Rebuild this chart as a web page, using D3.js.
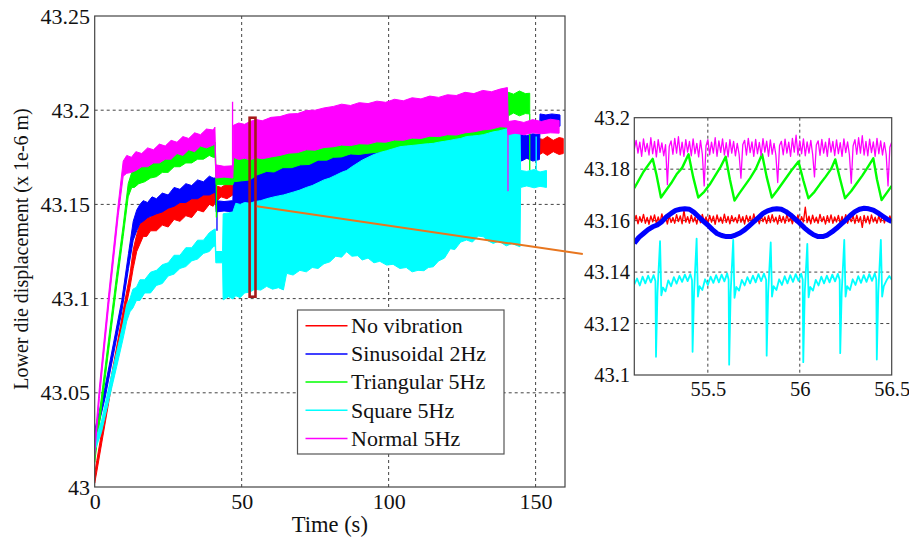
<!DOCTYPE html>
<html><head><meta charset="utf-8">
<script src="https://cdn.jsdelivr.net/npm/d3@7"></script>
<style>
body{margin:0;background:#fff}
svg{display:block}
svg text{font-family:"Liberation Serif","Tinos","DejaVu Serif","Noto Serif",serif;fill:#111}
</style>
</head><body>
<svg id="c" width="909" height="541"></svg>
<script>
// ---------- tick labels ----------
const xTicks = [0, 50, 100, 150];
const yTicks = [43, 43.05, 43.1, 43.15, 43.2, 43.25];
const insetXTicks = [55.5, 56, 56.5];
const insetYTicks = [43.1, 43.12, 43.14, 43.16, 43.18, 43.2];
const xLabel = "Time (s)";
const yLabel = "Lower die displacement (x 1e-6 m)";
const seriesNames = ["No vibration", "Sinusoidal 2Hz", "Triangular 5Hz", "Square 5Hz", "Normal 5Hz"];
const seriesColors = ["#ff0000", "#0000ff", "#00ff00", "#00ffff", "#ff00ff"];

// ---------- main plot: envelopes [time, low, high] ----------
const redBand = [[0,43.002,43.007],[0.7,43.008,43.014],[5,43.047,43.053],[10.3,43.093,43.099],[12,43.106,43.113],[13.1,43.116,43.126],[14.3,43.125,43.134],[15.4,43.129,43.140],[16.5,43.133,43.141],[17.7,43.133,43.144],[19,43.136,43.143],[21,43.136,43.148],[23,43.139,43.146],[25,43.138,43.151],[27,43.142,43.150],[29,43.141,43.153],[31,43.144,43.151],[33,43.143,43.155],[35,43.147,43.154],[37,43.146,43.158],[39,43.150,43.157],[40.3,43.149,43.160],[41,43.151,43.160],[43,43.154,43.159],[45,43.153,43.161],[47,43.155,43.160],[50,43.155,43.164],[60,43.157,43.166],[80,43.161,43.170],[100,43.165,43.174],[120,43.169,43.178],[145,43.174,43.183],[150.9,43.176,43.185],[152.5,43.1775,43.1845],[154,43.176,43.186],[156,43.178,43.184],[158,43.1765,43.1855],[159.4,43.177,43.185]];
const blueBand = [[0,43.024,43.030],[3.5,43.047,43.053],[9.2,43.093,43.099],[11.5,43.116,43.124],[13.1,43.131,43.141],[14.3,43.136,43.147],[15.4,43.140,43.150],[16.5,43.141,43.152],[18,43.143,43.151],[19.5,43.144,43.154],[21,43.145,43.153],[23,43.146,43.156],[25,43.148,43.155],[27,43.149,43.159],[29,43.151,43.158],[31,43.151,43.161],[33,43.153,43.160],[35,43.153,43.163],[37,43.155,43.162],[39,43.155,43.165],[40.3,43.156,43.164],[41,43.1565,43.164],[41.3,43.146,43.152],[44,43.1465,43.1515],[47,43.146,43.152],[47.3,43.148,43.1665],[56,43.149,43.167],[60,43.151,43.1695],[70,43.154,43.172],[80,43.158,43.175],[90,43.163,43.177],[100,43.168,43.178],[120,43.172,43.183],[140,43.176,43.187],[144.9,43.177,43.188],[145.2,43.173,43.187],[147,43.1745,43.1865],[149,43.173,43.1875],[151.3,43.1738,43.187],[151.5,43.191,43.198],[153.5,43.1915,43.1975],[155.5,43.191,43.198],[158.3,43.1915,43.1975]];
const greenBand = [[0,43.013,43.019],[2.7,43.047,43.053],[7.5,43.107,43.113],[9.7,43.133,43.139],[11.4,43.154,43.161],[12.6,43.159,43.167],[13.5,43.159,43.169],[15,43.161,43.169],[17,43.162,43.172],[19,43.164,43.171],[21,43.1647,43.1745],[23,43.167,43.174],[25,43.167,43.177],[27,43.170,43.177],[29,43.170,43.180],[31,43.172,43.179],[33,43.172,43.181],[35,43.174,43.180],[37,43.174,43.183],[39,43.176,43.182],[40.3,43.175,43.184],[41,43.175,43.183],[41.3,43.1605,43.1665],[47,43.1605,43.1665],[47.3,43.162,43.176],[50,43.1625,43.177],[52.8,43.163,43.178],[55,43.1655,43.179],[58.5,43.1675,43.180],[61,43.1672,43.181],[64,43.1695,43.1815],[67,43.1695,43.182],[70,43.171,43.183],[73,43.1712,43.184],[76,43.1735,43.1845],[79,43.1735,43.185],[81.2,43.175,43.186],[84,43.1752,43.1865],[87,43.1768,43.187],[90,43.1765,43.1875],[92,43.177,43.188],[103.8,43.179,43.190],[115,43.181,43.192],[126.5,43.184,43.194],[137.9,43.186,43.196],[140.3,43.187,43.196],[140.7,43.197,43.2095],[142.5,43.1985,43.2085],[144.5,43.197,43.2102],[146.5,43.1982,43.2088],[148,43.198,43.209]];
const cyanBand = [[0,43.019,43.024],[2.3,43.029,43.035],[5.1,43.048,43.055],[7.5,43.064,43.072],[9.7,43.079,43.087],[10.9,43.088,43.097],[12,43.093,43.100],[13,43.095,43.105],[14.2,43.099,43.106],[15.4,43.099,43.110],[17,43.103,43.110],[19,43.103,43.114],[21,43.107,43.115],[23,43.108,43.118],[25,43.112,43.119],[27,43.113,43.123],[29,43.116,43.123],[31,43.117,43.127],[33,43.120,43.127],[35,43.121,43.131],[37,43.124,43.131],[39,43.125,43.135],[40.3,43.1275,43.1364],[41,43.128,43.137],[41.2,43.119,43.125],[43.5,43.119,43.125],[43.7,43.0993,43.145],[45.5,43.1010,43.1455],[47,43.0998,43.146],[48,43.1015,43.1506],[49.5,43.1005,43.1500],[51,43.1030,43.1510],[52.8,43.1035,43.1506],[54.5,43.1050,43.1515],[56.5,43.1045,43.1520],[58.5,43.1065,43.153],[60.5,43.1050,43.1538],[62.5,43.1058,43.1545],[64.2,43.1046,43.155],[65.3,43.1134,43.1555],[67.5,43.1125,43.1565],[69.8,43.1150,43.1576],[72,43.1142,43.159],[74,43.1165,43.160],[76,43.1160,43.1615],[78,43.1185,43.163],[80,43.1195,43.164],[82,43.1225,43.1655],[84,43.1220,43.167],[85.7,43.1249,43.168],[87.5,43.1225,43.170],[89.5,43.1228,43.172],[91,43.1205,43.1735],[93,43.1215,43.175],[95,43.1190,43.1765],[97,43.1198,43.1775],[99.3,43.1178,43.1785],[101.5,43.1182,43.1795],[103.8,43.1160,43.1806],[106,43.1165,43.181],[108,43.1142,43.1813],[110,43.1150,43.1816],[112,43.1148,43.182],[113.5,43.1165,43.1822],[115.2,43.1169,43.1824],[117,43.1200,43.183],[119,43.1215,43.1835],[121,43.1265,43.184],[122.5,43.1260,43.1845],[124.5,43.1300,43.185],[126.5,43.1311,43.186],[128.5,43.1300,43.1863],[130.5,43.1332,43.1866],[132.2,43.1328,43.187],[134,43.1305,43.1878],[135.6,43.1293,43.1885],[137.5,43.1305,43.189],[140,43.1280,43.190],[142,43.1292,43.1905],[144.7,43.1275,43.191],[144.9,43.159,43.168],[147,43.1598,43.1675],[149.5,43.1588,43.1685],[151.5,43.1596,43.1672],[153.7,43.159,43.168]];
const magentaBand = [[0,43.017,43.023],[1.6,43.047,43.053],[4.8,43.097,43.103],[8,43.144,43.150],[9.7,43.165,43.173],[10.9,43.1665,43.176],[12.5,43.167,43.175],[14,43.168,43.178],[16,43.170,43.177],[18,43.170,43.180],[20,43.172,43.179],[22,43.172,43.182],[24,43.174,43.181],[26,43.174,43.184],[28,43.177,43.183],[30,43.176,43.186],[32,43.179,43.185],[34,43.178,43.188],[36,43.181,43.187],[38,43.180,43.190],[40.3,43.1815,43.1895],[40.9,43.182,43.191],[41.2,43.164,43.171],[44,43.1645,43.1702],[47,43.164,43.1705],[47.2,43.175,43.192],[49,43.1738,43.1932],[51,43.1745,43.1925],[52.8,43.1736,43.194],[55,43.1748,43.1950],[57,43.1742,43.1944],[60,43.1752,43.1962],[63,43.1760,43.1966],[66,43.1772,43.1980],[69,43.1775,43.1982],[72,43.1790,43.1998],[75,43.1788,43.2000],[78,43.1802,43.2012],[81.2,43.1806,43.2020],[84,43.1815,43.2032],[87,43.1812,43.2025],[90,43.1822,43.2040],[93,43.1820,43.2035],[96,43.1832,43.2048],[99,43.1830,43.2042],[102,43.1842,43.2058],[105,43.1840,43.2050],[108,43.1852,43.2066],[111,43.1850,43.2060],[114,43.1862,43.2075],[117,43.1860,43.2068],[120,43.1870,43.2082],[123,43.1868,43.2078],[126,43.1880,43.2095],[129,43.1885,43.2088],[132,43.1895,43.2105],[135,43.1900,43.2098],[137.9,43.1912,43.2112],[140.4,43.1910,43.2120],[140.7,43.187,43.194],[143,43.1878,43.1945],[146,43.187,43.1935],[149,43.188,43.195],[152,43.1875,43.194],[155,43.188,43.1952],[158,43.1878,43.1945]];
// isolated spikes [series index, time, from, to]
const mainSpikes = [[1,41.6,43.150,43.136],[2,41.4,43.166,43.143],[2,148,43.198,43.168],[3,150.2,43.168,43.186],[4,46.9,43.170,43.2045],[4,140.6,43.19,43.157]];

// ---------- inset (55.1 .. 56.5 s): [time, value] ----------
const redInset = [[55.10,43.1596],[55.11,43.1620],[55.12,43.1588],[55.13,43.1615],[55.14,43.1594],[55.15,43.1624],[55.16,43.1590],[55.17,43.1612],[55.18,43.1586],[55.19,43.1618],[55.20,43.1595],[55.21,43.1622],[55.22,43.1589],[55.23,43.1614],[55.24,43.1592],[55.25,43.1626],[55.26,43.1597],[55.27,43.1616],[55.28,43.1587],[55.29,43.1620],[55.30,43.1593],[55.31,43.1612],[55.32,43.1590],[55.33,43.1623],[55.34,43.1596],[55.35,43.1618],[55.36,43.1588],[55.37,43.1640],[55.38,43.1594],[55.39,43.1615],[55.40,43.1590],[55.41,43.1621],[55.42,43.1595],[55.43,43.1613],[55.44,43.1587],[55.45,43.1619],[55.46,43.1592],[55.47,43.1624],[55.48,43.1596],[55.49,43.1614],[55.50,43.1589],[55.51,43.1620],[55.52,43.1594],[55.53,43.1617],[55.54,43.1586],[55.55,43.1622],[55.56,43.1595],[55.57,43.1613],[55.58,43.1590],[55.59,43.1625],[55.60,43.1593],[55.61,43.1616],[55.62,43.1588],[55.63,43.1619],[55.64,43.1596],[55.65,43.1612],[55.66,43.1591],[55.67,43.1623],[55.68,43.1594],[55.69,43.1615],[55.70,43.1587],[55.71,43.1620],[55.72,43.1595],[55.73,43.1617],[55.74,43.1590],[55.75,43.1626],[55.76,43.1593],[55.77,43.1612],[55.78,43.1588],[55.79,43.1621],[55.80,43.1596],[55.81,43.1614],[55.82,43.1589],[55.83,43.1619],[55.84,43.1592],[55.85,43.1623],[55.86,43.1595],[55.87,43.1613],[55.88,43.1587],[55.89,43.1620],[55.90,43.1594],[55.91,43.1616],[55.92,43.1590],[55.93,43.1624],[55.94,43.1596],[55.95,43.1612],[55.96,43.1588],[55.97,43.1618],[55.98,43.1593],[55.99,43.1622],[56.00,43.1590],[56.01,43.1615],[56.02,43.1595],[56.03,43.1652],[56.04,43.1592],[56.05,43.1617],[56.06,43.1588],[56.07,43.1621],[56.08,43.1594],[56.09,43.1613],[56.10,43.1590],[56.11,43.1624],[56.12,43.1596],[56.13,43.1615],[56.14,43.1587],[56.15,43.1619],[56.16,43.1593],[56.17,43.1622],[56.18,43.1590],[56.19,43.1614],[56.20,43.1595],[56.21,43.1620],[56.22,43.1588],[56.23,43.1616],[56.24,43.1594],[56.25,43.1623],[56.26,43.1590],[56.27,43.1612],[56.28,43.1596],[56.29,43.1619],[56.30,43.1589],[56.31,43.1621],[56.32,43.1594],[56.33,43.1615],[56.34,43.1574],[56.35,43.1620],[56.36,43.1592],[56.37,43.1617],[56.38,43.1588],[56.39,43.1622],[56.40,43.1595],[56.41,43.1613],[56.42,43.1590],[56.43,43.1619],[56.44,43.1594],[56.45,43.1624],[56.46,43.1591],[56.47,43.1615],[56.48,43.1596],[56.49,43.1618],[56.50,43.1598]];
const blueInset = [[55.10,43.1512],[55.125,43.1535],[55.15,43.1550],[55.175,43.1565],[55.20,43.1576],[55.225,43.1583],[55.25,43.1596],[55.275,43.1615],[55.30,43.1628],[55.325,43.1640],[55.35,43.1644],[55.375,43.1646],[55.40,43.1644],[55.425,43.1632],[55.45,43.1615],[55.475,43.1598],[55.50,43.1583],[55.525,43.1565],[55.55,43.1550],[55.575,43.1542],[55.60,43.1538],[55.625,43.1538],[55.65,43.1544],[55.675,43.1552],[55.70,43.1564],[55.725,43.1580],[55.75,43.1596],[55.775,43.1612],[55.80,43.1628],[55.825,43.1638],[55.85,43.1644],[55.875,43.1646],[55.90,43.1644],[55.925,43.1635],[55.95,43.1622],[55.975,43.1606],[56.00,43.1590],[56.025,43.1572],[56.05,43.1557],[56.075,43.1545],[56.10,43.1538],[56.125,43.1538],[56.15,43.1544],[56.175,43.1556],[56.20,43.1570],[56.225,43.1586],[56.25,43.1602],[56.275,43.1620],[56.30,43.1635],[56.325,43.1644],[56.35,43.1648],[56.375,43.1646],[56.40,43.1641],[56.425,43.1630],[56.45,43.1618],[56.475,43.1606],[56.50,43.1596]];
const greenInset = [[55.10,43.1726],[55.15,43.1790],[55.20,43.1840],[55.22,43.1780],[55.245,43.1690],[55.27,43.1715],[55.30,43.1745],[55.33,43.1780],[55.36,43.1805],[55.395,43.1858],[55.42,43.1770],[55.448,43.1690],[55.48,43.1712],[55.51,43.1740],[55.54,43.1775],[55.57,43.1810],[55.597,43.1848],[55.62,43.1760],[55.645,43.1678],[55.67,43.1705],[55.70,43.1735],[55.73,43.1765],[55.76,43.1800],[55.795,43.1858],[55.82,43.1770],[55.848,43.1690],[55.88,43.1720],[55.91,43.1750],[55.94,43.1780],[55.96,43.1800],[55.993,43.1830],[56.02,43.1755],[56.047,43.1687],[56.08,43.1712],[56.11,43.1742],[56.14,43.1770],[56.17,43.1800],[56.193,43.1838],[56.22,43.1760],[56.246,43.1687],[56.28,43.1715],[56.31,43.1745],[56.34,43.1775],[56.37,43.1808],[56.40,43.1842],[56.42,43.1760],[56.445,43.1680],[56.47,43.1705],[56.50,43.1735]];
const cyanInset = [[55.100,43.1352],[55.115,43.1375],[55.130,43.1348],[55.145,43.1382],[55.160,43.1356],[55.175,43.1386],[55.190,43.1360],[55.205,43.1388],[55.215,43.1365],[55.218,43.1071],[55.226,43.1320],[55.240,43.1520],[55.247,43.1310],[55.256,43.1340],[55.270,43.1325],[55.285,43.1368],[55.300,43.1345],[55.315,43.1380],[55.330,43.1355],[55.345,43.1385],[55.360,43.1362],[55.375,43.1390],[55.390,43.1365],[55.405,43.1392],[55.414,43.1368],[55.417,43.1090],[55.425,43.1320],[55.439,43.1530],[55.446,43.1305],[55.455,43.1345],[55.470,43.1330],[55.485,43.1372],[55.500,43.1350],[55.515,43.1382],[55.530,43.1358],[55.545,43.1388],[55.560,43.1360],[55.575,43.1390],[55.590,43.1364],[55.605,43.1395],[55.613,43.1370],[55.616,43.1040],[55.624,43.1320],[55.638,43.1525],[55.645,43.1300],[55.655,43.1342],[55.670,43.1328],[55.685,43.1370],[55.700,43.1348],[55.715,43.1380],[55.730,43.1356],[55.745,43.1386],[55.760,43.1360],[55.775,43.1392],[55.790,43.1365],[55.805,43.1394],[55.817,43.1370],[55.820,43.1075],[55.828,43.1320],[55.842,43.1515],[55.849,43.1305],[55.858,43.1345],[55.873,43.1330],[55.888,43.1372],[55.903,43.1350],[55.918,43.1384],[55.933,43.1356],[55.948,43.1388],[55.963,43.1362],[55.978,43.1392],[55.993,43.1366],[56.008,43.1394],[56.016,43.1370],[56.019,43.1050],[56.027,43.1320],[56.041,43.1510],[56.048,43.1302],[56.057,43.1342],[56.072,43.1328],[56.087,43.1370],[56.102,43.1348],[56.117,43.1382],[56.132,43.1356],[56.147,43.1386],[56.162,43.1360],[56.177,43.1390],[56.192,43.1364],[56.207,43.1393],[56.217,43.1370],[56.220,43.1085],[56.228,43.1320],[56.242,43.1525],[56.249,43.1305],[56.258,43.1345],[56.273,43.1330],[56.288,43.1372],[56.303,43.1350],[56.318,43.1384],[56.333,43.1358],[56.348,43.1388],[56.363,43.1362],[56.378,43.1392],[56.393,43.1366],[56.408,43.1395],[56.416,43.1372],[56.419,43.1060],[56.427,43.1320],[56.441,43.1525],[56.448,43.1305],[56.457,43.1345],[56.472,43.1368],[56.487,43.1385],[56.500,43.1370]];
const magentaInset = [[55.10,43.1878],[55.11,43.1912],[55.12,43.1862],[55.13,43.1905],[55.14,43.1850],[55.15,43.1918],[55.16,43.1868],[55.17,43.1900],[55.18,43.1855],[55.19,43.1922],[55.20,43.1860],[55.21,43.1908],[55.22,43.1848],[55.23,43.1915],[55.24,43.1865],[55.25,43.1902],[55.26,43.1852],[55.27,43.1895],[55.28,43.1740],[55.29,43.1888],[55.30,43.1910],[55.31,43.1858],[55.32,43.1920],[55.33,43.1862],[55.34,43.1926],[55.35,43.1855],[55.36,43.1905],[55.37,43.1850],[55.38,43.1915],[55.39,43.1866],[55.40,43.1908],[55.41,43.1852],[55.42,43.1918],[55.43,43.1860],[55.44,43.1900],[55.45,43.1848],[55.46,43.1912],[55.47,43.1858],[55.48,43.1735],[55.49,43.1890],[55.50,43.1915],[55.51,43.1856],[55.52,43.1905],[55.53,43.1862],[55.54,43.1922],[55.55,43.1850],[55.56,43.1910],[55.57,43.1865],[55.58,43.1918],[55.59,43.1855],[55.60,43.1903],[55.61,43.1848],[55.62,43.1915],[55.63,43.1862],[55.64,43.1908],[55.65,43.1852],[55.66,43.1900],[55.67,43.1858],[55.68,43.1765],[55.69,43.1895],[55.70,43.1912],[55.71,43.1855],[55.72,43.1920],[55.73,43.1864],[55.74,43.1906],[55.75,43.1850],[55.76,43.1916],[55.77,43.1860],[55.78,43.1904],[55.79,43.1853],[55.80,43.1919],[55.81,43.1866],[55.82,43.1909],[55.83,43.1850],[55.84,43.1914],[55.85,43.1858],[55.86,43.1900],[55.87,43.1855],[55.88,43.1748],[55.89,43.1892],[55.90,43.1908],[55.91,43.1856],[55.92,43.1917],[55.93,43.1862],[55.94,43.1905],[55.95,43.1850],[55.96,43.1920],[55.97,43.1866],[55.98,43.1932],[55.99,43.1855],[56.00,43.1910],[56.01,43.1860],[56.02,43.1918],[56.03,43.1852],[56.04,43.1906],[56.05,43.1862],[56.06,43.1912],[56.07,43.1858],[56.08,43.1770],[56.09,43.1894],[56.10,43.1910],[56.11,43.1854],[56.12,43.1916],[56.13,43.1862],[56.14,43.1905],[56.15,43.1850],[56.16,43.1920],[56.17,43.1866],[56.18,43.1908],[56.19,43.1853],[56.20,43.1914],[56.21,43.1860],[56.22,43.1903],[56.23,43.1850],[56.24,43.1918],[56.25,43.1864],[56.26,43.1906],[56.27,43.1856],[56.28,43.1745],[56.29,43.1890],[56.30,43.1915],[56.31,43.1858],[56.32,43.1922],[56.33,43.1862],[56.34,43.1930],[56.35,43.1855],[56.36,43.1908],[56.37,43.1852],[56.38,43.1917],[56.39,43.1864],[56.40,43.1906],[56.41,43.1850],[56.42,43.1920],[56.43,43.1860],[56.44,43.1910],[56.45,43.1855],[56.46,43.1903],[56.47,43.1858],[56.48,43.1735],[56.49,43.1885],[56.50,43.1905]];

// zoom window marker in main plot and connector [time, value]
const zoomBox = [[52.7, 43.101], [54.7, 43.196]];
const connectorFrom = [55.1, 43.149];   // main-plot coords
const connectorTo = [54.82, 43.147];    // inset coords

// ---------- drawing ----------
const FONT = "'Liberation Serif', Tinos, 'DejaVu Serif', 'Noto Serif', serif";
const svg = d3.select("#c");
const M = {l:94.7, r:565, t:16, b:487};
const I = {l:634.3, r:891.7, t:117.7, b:375};

const x = d3.scaleLinear().domain([0,160]).range([M.l, M.r]);
const y = d3.scaleLinear().domain([43,43.25]).range([M.b, M.t]);
const xi = d3.scaleLinear().domain([55.1,56.5]).range([I.l, I.r]);
const yi = d3.scaleLinear().domain([43.1,43.2]).range([I.b, I.t]);
const fmt = v => String(+v.toFixed(3));

const defs = svg.append("defs");
defs.append("clipPath").attr("id","cm").append("rect").attr("x",M.l).attr("y",M.t).attr("width",M.r-M.l).attr("height",M.b-M.t);
defs.append("clipPath").attr("id","ci").append("rect").attr("x",I.l).attr("y",I.t).attr("width",I.r-I.l).attr("height",I.b-I.t);

const gridCol = "#444";
const gm = svg.append("g");
gm.selectAll(".gx").data(xTicks.filter(v=>v>0)).join("line")
  .attr("x1",d=>x(d)).attr("x2",d=>x(d)).attr("y1",M.t).attr("y2",M.b)
  .attr("stroke",gridCol).attr("stroke-width",1).attr("stroke-dasharray","3,3");
gm.selectAll(".gy").data(yTicks.filter(v=>v>43 && v<43.25)).join("line")
  .attr("y1",d=>y(d)).attr("y2",d=>y(d)).attr("x1",M.l).attr("x2",M.r)
  .attr("stroke",gridCol).attr("stroke-width",1).attr("stroke-dasharray","3,3");

const bands = [redBand, blueBand, greenBand, cyanBand, magentaBand];
const area = d3.area().x(d=>x(d[0])).y0(d=>y(d[1])).y1(d=>y(d[2]));
const gd = svg.append("g").attr("clip-path","url(#cm)");
bands.forEach((b,i)=>{
  gd.append("path").attr("d",area(b)).attr("fill",seriesColors[i])
    .attr("stroke",seriesColors[i]).attr("stroke-width",1).attr("stroke-linejoin","round");
  mainSpikes.filter(s=>s[0]===i).forEach(s=>{
    gd.append("line").attr("x1",x(s[1])).attr("x2",x(s[1])).attr("y1",y(s[2])).attr("y2",y(s[3]))
      .attr("stroke",seriesColors[i]).attr("stroke-width",1.3);
  });
});

svg.append("rect").attr("x",M.l).attr("y",M.t).attr("width",M.r-M.l).attr("height",M.b-M.t)
  .attr("fill","none").attr("stroke","#444").attr("stroke-width",1.2);

const ax = svg.append("g").attr("transform",`translate(0,${M.b})`)
  .call(d3.axisBottom(x).tickValues(xTicks).tickSize(0).tickPadding(6.4).tickFormat(fmt));
const ay = svg.append("g").attr("transform",`translate(${M.l},0)`)
  .call(d3.axisLeft(y).tickValues(yTicks).tickSize(0).tickPadding(4.7).tickFormat(fmt));
[ax, ay].forEach(g=>{ g.attr("font-family",FONT); g.select(".domain").remove();
  g.selectAll("text").attr("font-size",22).attr("fill","#111").style("font-family",FONT); });

svg.append("text").attr("x",(M.l+M.r)/2).attr("y",532).attr("text-anchor","middle")
  .attr("font-size",22.5).style("font-family",FONT).text(xLabel);
svg.append("text").attr("transform","translate(28,249) rotate(-90)").attr("text-anchor","middle")
  .attr("font-size",20).style("font-family",FONT).text(yLabel);

const L = {x:297.5, y:310, w:206.5, h:144, row:28.2, first:325.7};
const lg = svg.append("g");
lg.append("rect").attr("x",L.x).attr("y",L.y).attr("width",L.w).attr("height",L.h)
  .attr("fill","#fff").attr("stroke","#555").attr("stroke-width",1.2);
seriesNames.forEach((n,i)=>{
  const cy = L.first + i*L.row;
  lg.append("line").attr("x1",L.x+8).attr("x2",L.x+50).attr("y1",cy).attr("y2",cy)
    .attr("stroke",seriesColors[i]).attr("stroke-width",1.5);
  lg.append("text").attr("x",L.x+53.5).attr("y",cy+7.3).attr("font-size",22).style("font-family",FONT).text(n);
});

svg.append("rect").attr("x",x(zoomBox[0][0])).attr("y",y(zoomBox[1][1]))
  .attr("width",x(zoomBox[1][0])-x(zoomBox[0][0])).attr("height",y(zoomBox[0][1])-y(zoomBox[1][1]))
  .attr("fill","none").attr("stroke","#a51818").attr("stroke-width",2.6);
svg.append("line").attr("x1",x(connectorFrom[0])).attr("y1",y(connectorFrom[1]))
  .attr("x2",xi(connectorTo[0])).attr("y2",yi(connectorTo[1]))
  .attr("stroke","#e8761f").attr("stroke-width",2);

svg.append("rect").attr("x",I.l).attr("y",I.t).attr("width",I.r-I.l).attr("height",I.b-I.t).attr("fill","#fff");
const gi = svg.append("g");
gi.selectAll(".gx").data(insetXTicks.filter(v=>v<56.5)).join("line")
  .attr("x1",d=>xi(d)).attr("x2",d=>xi(d)).attr("y1",I.t).attr("y2",I.b)
  .attr("stroke",gridCol).attr("stroke-width",1).attr("stroke-dasharray","3,3");
gi.selectAll(".gy").data(insetYTicks.filter(v=>v>43.1 && v<43.2)).join("line")
  .attr("y1",d=>yi(d)).attr("y2",d=>yi(d)).attr("x1",I.l).attr("x2",I.r)
  .attr("stroke",gridCol).attr("stroke-width",1).attr("stroke-dasharray","3,3");

const lineI = d3.line().x(d=>xi(d[0])).y(d=>yi(d[1]));
const insetData = [redInset, blueInset, greenInset, cyanInset, magentaInset];
const insetWidths = [1.4, 5, 2.4, 1.8, 1.3];
const gid = svg.append("g").attr("clip-path","url(#ci)");
insetData.forEach((s,i)=>{
  gid.append("path").attr("d",lineI(s)).attr("fill","none").attr("stroke",seriesColors[i])
    .attr("stroke-width",insetWidths[i]).attr("stroke-linejoin","round");
});
svg.append("rect").attr("x",I.l).attr("y",I.t).attr("width",I.r-I.l).attr("height",I.b-I.t)
  .attr("fill","none").attr("stroke","#444").attr("stroke-width",1.2);
const ixa = svg.append("g").attr("transform",`translate(0,${I.b})`)
  .call(d3.axisBottom(xi).tickValues(insetXTicks).tickSize(0).tickPadding(6.4).tickFormat(fmt));
const iya = svg.append("g").attr("transform",`translate(${I.l},0)`)
  .call(d3.axisLeft(yi).tickValues(insetYTicks).tickSize(0).tickPadding(4.3).tickFormat(fmt));
[ixa, iya].forEach(g=>{ g.attr("font-family",FONT); g.select(".domain").remove();
  g.selectAll("text").attr("font-size",20.5).attr("fill","#111").style("font-family",FONT); });
</script>
</body></html>
